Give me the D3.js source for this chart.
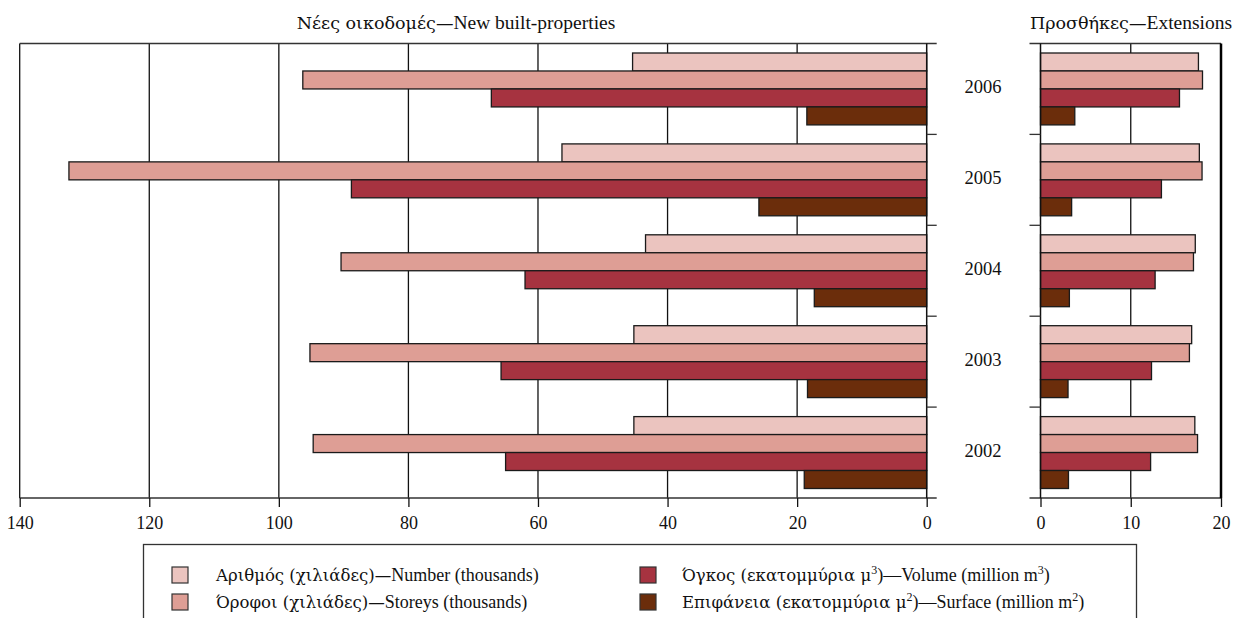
<!DOCTYPE html>
<html><head><meta charset="utf-8">
<script src="https://cdn.jsdelivr.net/npm/d3@7"></script>
<style>
body{margin:0;background:#fff;}
</style></head>
<body><svg id="c" width="1239" height="618"></svg>
<script>
const years = ["2006","2005","2004","2003","2002"];
const seriesKeys = ["number","storeys","volume","surface"];
// New built-properties (left panel)
const newNumber  = [45.4, 56.3, 43.4, 45.2, 45.2];
const newStoreys = [96.3, 132.4, 90.4, 95.2, 94.7];
const newVolume  = [67.2, 88.8, 62.0, 65.7, 65.0];
const newSurface = [18.5, 25.9, 17.35, 18.4, 18.9];
// Extensions (right panel)
const extNumber  = [17.5, 17.6, 17.15, 16.75, 17.1];
const extStoreys = [17.95, 17.9, 16.95, 16.5, 17.4];
const extVolume  = [15.4, 13.4, 12.7, 12.3, 12.2];
const extSurface = [3.8, 3.45, 3.2, 3.05, 3.1];
const leftTicks = [140,120,100,80,60,40,20,0];
const rightTicks = [0,10,20];
const titleLeft = "Νέες οικοδομές—New built-properties";
const titleRight = "Προσθήκες—Extensions";
const legendLabels = [
  ["Αριθμός (χιλιάδες)—Number (thousands)"],
  ["Όροφοι (χιλιάδες)—Storeys (thousands)"],
  ["Όγκος (εκατομμύρια μ","3",")—Volume (million m","3",")"],
  ["Επιφάνεια (εκατομμύρια μ","2",")—Surface (million m","2",")"]
];
const colors = ["#EBC4BF","#DE9E95","#A63340","#6B2D0B"];

const FONT = "'Liberation Serif','Times New Roman',Times,'DejaVu Serif',serif";
const GREEK_FONT = "'DejaVu Serif','Liberation Serif',serif";
const svg = d3.select("#c").attr("font-family",FONT);
const yTop = 43.5, yBottom = 498;
const xL = d3.scaleLinear().domain([140,0]).range([19.7,926.7]);
const xR = d3.scaleLinear().domain([0,20]).range([1040.5,1221]);
const y = d3.scaleBand().domain(years).range([yTop,yBottom]);
const yIn = d3.scaleBand().domain(seriesKeys).range([9.5, y.bandwidth()-9.5]);
const color = d3.scaleOrdinal().domain(seriesKeys).range(colors);

const newData = [newNumber,newStoreys,newVolume,newSurface];
const extData = [extNumber,extStoreys,extVolume,extSurface];

function rows(arrs){
  const out=[];
  years.forEach((yr,yi)=>seriesKeys.forEach((k,ki)=>out.push({yr,k,v:arrs[ki][yi]})));
  return out;
}

// split a string into Greek / Latin runs and append as tspans
function addRuns(textSel, str, size, gf){
  const isG = ch => /[\u0370-\u03FF\u1F00-\u1FFF]/.test(ch);
  const isL = ch => /[A-Za-z0-9]/.test(ch);
  const runs=[]; let cur="", curG=null;
  for(const ch of str){
    const g = isG(ch) ? true : (isL(ch) ? false : null);
    if(g===null || curG===null || g===curG){ cur+=ch; if(g!==null) curG=g; }
    else { runs.push([cur,curG]); cur=ch; curG=g; }
  }
  if(cur) runs.push([cur,curG]);
  runs.forEach(([s,g])=>{
    const ts = textSel.append("tspan").text(s);
    if(g){ ts.attr("font-family",GREEK_FONT).attr("font-size",size*gf); }
    else { ts.attr("font-size",size); }
  });
}

// ---- Left panel ----
const gL = svg.append("g");
gL.selectAll("line.grid").data(leftTicks.filter(d=>d!==0)).join("line")
  .attr("x1",d=>xL(d)).attr("x2",d=>xL(d))
  .attr("y1",yTop).attr("y2",yBottom).attr("stroke","#111").attr("stroke-width",1.3);
[yTop,yBottom].forEach(yy=>gL.append("line").attr("x1",xL(140)).attr("x2",xL(0)+10)
  .attr("y1",yy).attr("y2",yy).attr("stroke","#333").attr("stroke-width",1.3));
gL.selectAll("rect.bar").data(rows(newData)).join("rect")
  .attr("x",d=>xL(d.v)).attr("width",d=>xL(0)-xL(d.v))
  .attr("y",d=>y(d.yr)+yIn(d.k)).attr("height",yIn.bandwidth())
  .attr("fill",d=>color(d.k)).attr("stroke","#1a1a1a").attr("stroke-width",1.3);
gL.append("line").attr("x1",xL(0)).attr("x2",xL(0)).attr("y1",yTop).attr("y2",yBottom)
  .attr("stroke","#111").attr("stroke-width",1.5);
gL.selectAll("line.gt").data(years.slice(1)).join("line")
  .attr("x1",xL(0)).attr("x2",xL(0)+10).attr("y1",d=>y(d)).attr("y2",d=>y(d))
  .attr("stroke","#333").attr("stroke-width",1.3);
const axL = d3.axisBottom(xL).tickValues(leftTicks).tickSize(9).tickPadding(9).tickFormat(d3.format("d"));
const aL = svg.append("g").attr("transform",`translate(0,${yBottom})`).call(axL)
  .attr("font-family",FONT).attr("font-size",18);
aL.select(".domain").remove();
aL.selectAll("line").attr("stroke","#111").attr("stroke-width",1.3);
aL.selectAll("text").attr("fill","#111");

// ---- Right panel ----
const gR = svg.append("g");
gR.append("line").attr("x1",xR(10)).attr("x2",xR(10)).attr("y1",yTop).attr("y2",yBottom)
  .attr("stroke","#111").attr("stroke-width",1.3);
[yTop,yBottom].forEach(yy=>gR.append("line").attr("x1",xR(0)-11).attr("x2",xR(20))
  .attr("y1",yy).attr("y2",yy).attr("stroke","#333").attr("stroke-width",1.3));
gR.selectAll("rect.bar").data(rows(extData)).join("rect")
  .attr("x",xR(0)).attr("width",d=>xR(d.v)-xR(0))
  .attr("y",d=>y(d.yr)+yIn(d.k)).attr("height",yIn.bandwidth())
  .attr("fill",d=>color(d.k)).attr("stroke","#1a1a1a").attr("stroke-width",1.3);
gR.append("line").attr("x1",xR(0)).attr("x2",xR(0)).attr("y1",yTop).attr("y2",yBottom)
  .attr("stroke","#111").attr("stroke-width",1.5);
gR.append("line").attr("x1",xR(20)).attr("x2",xR(20)).attr("y1",yTop).attr("y2",yBottom)
  .attr("stroke","#000").attr("stroke-width",2.5);
gR.selectAll("line.gt").data(years.slice(1)).join("line")
  .attr("x1",xR(0)-11).attr("x2",xR(0)).attr("y1",d=>y(d)).attr("y2",d=>y(d))
  .attr("stroke","#333").attr("stroke-width",1.3);
const axR = d3.axisBottom(xR).tickValues(rightTicks).tickSize(9).tickPadding(9).tickFormat(d3.format("d"));
const aR = svg.append("g").attr("transform",`translate(0,${yBottom})`).call(axR)
  .attr("font-family",FONT).attr("font-size",18);
aR.select(".domain").remove();
aR.selectAll("line").attr("stroke","#111").attr("stroke-width",1.3);
aR.selectAll("text").attr("fill","#111");

// year labels
svg.selectAll("text.yr").data(years).join("text")
  .attr("x",983).attr("y",d=>y(d)+y.bandwidth()/2+4)
  .attr("text-anchor","middle").attr("font-size",18.5).attr("fill","#111").text(d=>d);

// titles
addRuns(svg.append("text").attr("x",456).attr("y",29).attr("text-anchor","middle").attr("fill","#111"), titleLeft, 19.5, 0.9);
addRuns(svg.append("text").attr("x",1131).attr("y",29).attr("text-anchor","middle").attr("fill","#111"), titleRight, 19.5, 0.9);

// legend
svg.append("rect").attr("x",143.5).attr("y",544.5).attr("width",993).attr("height",90)
  .attr("fill","none").attr("stroke","#333").attr("stroke-width",1.3);
const legPos = [[172,575],[172,602],[640,575],[640,602]];
seriesKeys.forEach((k,i)=>{
  const [lx,ly]=legPos[i];
  svg.append("rect").attr("x",lx).attr("y",ly-8).attr("width",16).attr("height",16)
    .attr("fill",color(k)).attr("stroke","#333").attr("stroke-width",1.2);
  const t = svg.append("text").attr("x",lx+(i<2?44:42)).attr("y",ly+6).attr("fill","#111");
  legendLabels[i].forEach((s,j)=>{
    if(j%2===1){ t.append("tspan").attr("baseline-shift","super").attr("font-size",12).text(s); }
    else addRuns(t, s, 18, 0.92);
  });
});
</script></body></html>
